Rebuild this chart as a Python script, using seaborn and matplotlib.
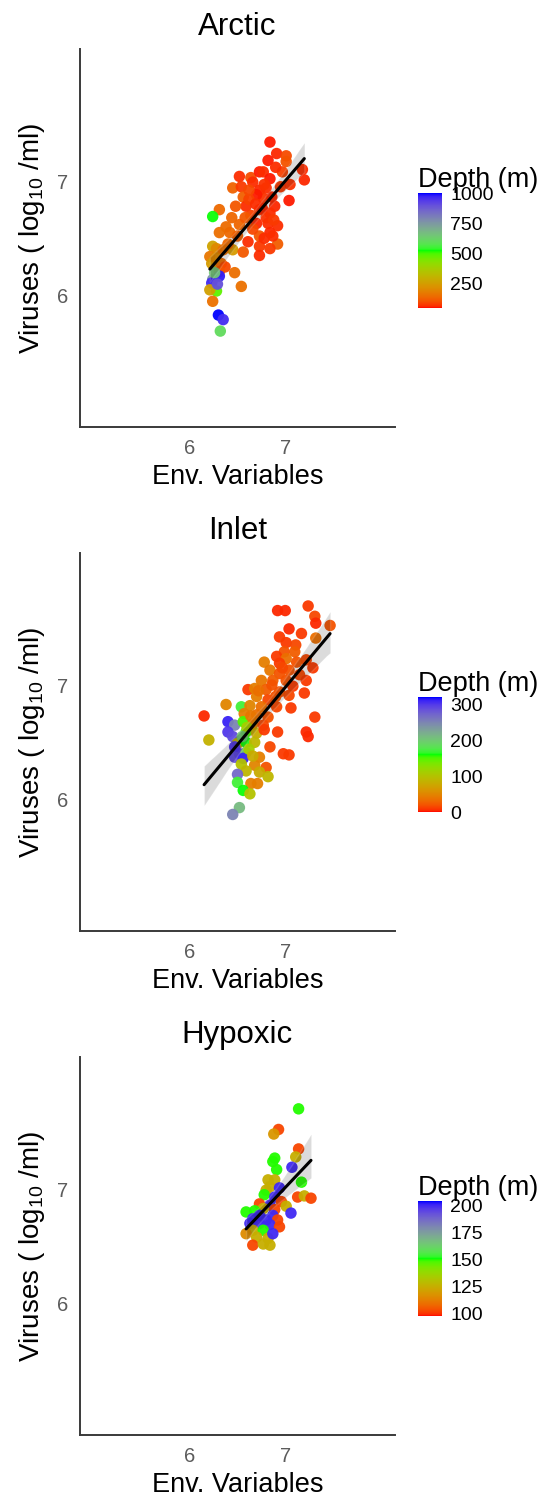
import numpy as np
import pandas as pd
import matplotlib
matplotlib.use("Agg")
import matplotlib.pyplot as plt
from matplotlib.colors import ListedColormap, Normalize
from matplotlib.cm import ScalarMappable
import seaborn as sns

# ---------------- data ----------------
titles = ["Arctic", "Inlet", "Hypoxic"]

arctic_x = [6.84, 6.91, 7.01, 6.82, 7.01, 7.18, 7.20, 6.52, 6.64, 6.73,
            6.77, 6.84, 6.97, 6.45, 6.54, 6.56, 6.73, 6.80, 6.77, 7.04,
            6.89, 6.59, 6.73, 6.84, 6.31, 6.24, 6.44, 6.52, 6.38, 6.64,
            6.70, 6.82, 6.92, 6.31, 6.42, 6.24, 6.28, 6.45, 6.61, 6.73,
            6.84, 6.92, 6.73, 6.84, 6.56, 6.73, 6.21, 6.23, 6.33, 6.37,
            6.31, 6.47, 6.24, 6.23, 6.31, 6.28, 6.21, 6.54, 6.24, 6.30,
            6.35, 6.32,
            6.66, 6.70, 6.78, 6.86, 6.62, 6.69, 6.76, 6.80, 6.88, 6.66,
            6.78, 6.50, 6.40, 6.35, 6.48, 6.58, 6.95, 6.90, 6.62, 6.87,
            7.05, 6.27, 6.29, 6.26]
arctic_y = [7.34, 7.24, 7.22, 7.18, 7.17, 7.10, 7.01, 7.04, 7.03, 7.08,
            7.08, 7.02, 7.08, 6.94, 6.95, 6.86, 6.92, 6.94, 6.85, 6.83,
            6.78, 6.78, 6.75, 6.72, 6.75, 6.69, 6.68, 6.62, 6.60, 6.70,
            6.63, 6.63, 6.61, 6.55, 6.55, 6.43, 6.41, 6.40, 6.47, 6.52,
            6.55, 6.45, 6.43, 6.41, 6.38, 6.35, 6.34, 6.28, 6.28, 6.25,
            6.21, 6.20, 6.14, 6.11, 6.17, 6.04, 6.05, 6.08, 5.95, 5.83,
            5.79, 5.69,
            6.99, 6.88, 6.97, 6.86, 6.84, 6.80, 6.76, 6.68, 6.66, 6.58,
            6.50, 6.52, 6.45, 6.40, 6.78, 6.68, 6.95, 7.12, 6.92, 6.52,
            6.97, 6.33, 6.10, 6.20]
arctic_depth = [50, 55, 90, 50, 100, 60, 55, 60, 95, 50,
                60, 50, 80, 125, 70, 120, 55, 60, 65, 50,
                55, 60, 70, 60, 135, 520, 130, 130, 140, 80,
                55, 60, 60, 145, 135, 260, 200, 240, 60, 105,
                55, 115, 70, 70, 110, 60, 160, 240, 140, 85,
                100, 145, 760, 960, 980, 480, 250, 150, 150, 1000,
                960, 600,
                60, 50, 65, 55, 80, 60, 55, 65, 70, 85,
                60, 120, 135, 150, 105, 110, 70, 60, 85, 60,
                65, 200, 900, 650]

inlet_x = [6.92, 7.00, 7.24, 7.31, 7.32, 7.47, 7.04, 6.94, 7.17, 7.32,
           7.01, 7.11, 6.99, 7.10, 6.91, 7.01, 6.78, 6.94, 7.22, 7.29,
           6.84, 7.04, 6.94, 7.15, 6.75, 6.87, 7.01, 7.22, 7.08, 6.61,
           6.68, 6.80, 6.94, 7.04, 7.20, 6.70, 6.82, 6.38, 6.54, 6.63,
           6.75, 6.91, 7.06, 6.15, 6.57, 6.70, 6.82, 7.31, 6.40, 6.47,
           6.56, 6.66, 6.77, 6.40, 6.45, 6.59, 6.70, 6.78, 6.92, 7.22,
           7.24, 6.20, 6.50, 6.59, 6.68, 6.47, 6.84, 6.52, 6.59, 6.98,
           7.04, 6.47, 6.56, 6.73, 6.54, 6.68, 6.80, 6.59, 6.50, 6.73,
           6.82, 6.50, 6.64, 6.71, 6.56, 6.63, 6.52, 6.45,
           6.86, 6.97, 6.90, 7.12, 6.72, 6.64, 6.60, 6.55, 6.62, 6.66]
inlet_y = [7.65, 7.65, 7.69, 7.60, 7.54, 7.52, 7.49, 7.42, 7.45, 7.41,
           7.37, 7.35, 7.29, 7.29, 7.25, 7.23, 7.20, 7.19, 7.22, 7.15,
           7.13, 7.13, 7.10, 7.09, 7.04, 7.04, 7.04, 7.04, 6.99, 6.96,
           6.97, 6.96, 6.94, 6.91, 6.93, 6.90, 6.87, 6.83, 6.81, 6.82,
           6.81, 6.81, 6.80, 6.73, 6.75, 6.74, 6.72, 6.72, 6.68, 6.65,
           6.68, 6.66, 6.65, 6.59, 6.55, 6.59, 6.58, 6.61, 6.59, 6.59,
           6.55, 6.52, 6.49, 6.50, 6.50, 6.46, 6.46, 6.40, 6.41, 6.40,
           6.39, 6.37, 6.36, 6.37, 6.31, 6.30, 6.28, 6.25, 6.22, 6.24,
           6.20, 6.15, 6.14, 6.14, 6.08, 6.05, 5.93, 5.87,
           7.00, 7.15, 6.90, 7.20, 6.95, 6.73, 6.63, 6.55, 6.44, 6.38]
inlet_depth = [5, 5, 10, 15, 5, 20, 5, 10, 10, 35,
               10, 15, 20, 25, 10, 35, 45, 10, 15, 10,
               40, 20, 20, 15, 40, 25, 20, 10, 10, 10,
               45, 25, 20, 15, 10, 45, 15, 50, 170, 50,
               35, 15, 10, 5, 45, 35, 20, 10, 310, 250,
               150, 45, 15, 300, 290, 150, 80, 10, 10, 5,
               5, 85, 90, 160, 90, 300, 15, 300, 200, 10,
               10, 290, 310, 45, 100, 50, 20, 90, 270, 80,
               90, 170, 45, 45, 160, 100, 210, 250,
               20, 15, 20, 20, 35, 40, 110, 200, 110, 80]

hypoxic_x = [7.14, 6.93, 6.88, 7.14, 7.11, 6.89, 6.87, 7.07, 6.91, 6.82,
             6.89, 7.17, 6.84, 6.94, 6.80, 6.78, 6.89, 7.13, 7.20, 7.27,
             6.73, 6.96, 6.84, 7.01, 6.89, 6.77, 7.06, 6.59, 6.68, 6.73,
             6.87, 6.66, 6.80, 6.92, 6.63, 6.73, 6.84, 6.94, 6.66, 6.77,
             6.59, 6.70, 6.82, 6.87, 6.66, 6.77, 6.84]
hypoxic_y = [7.70, 7.52, 7.48, 7.35, 7.28, 7.27, 7.24, 7.19, 7.17, 7.08,
             7.08, 7.06, 7.02, 7.01, 6.99, 6.95, 6.93, 6.93, 6.94, 6.92,
             6.87, 6.89, 6.86, 6.85, 6.82, 6.83, 6.79, 6.80, 6.81, 6.77,
             6.77, 6.74, 6.73, 6.73, 6.70, 6.70, 6.69, 6.67, 6.64, 6.64,
             6.61, 6.58, 6.57, 6.61, 6.51, 6.52, 6.51]
hypoxic_depth = [150, 102, 118, 102, 125, 150, 150, 200, 150, 125,
                 125, 150, 125, 200, 125, 150, 200, 102, 125, 102,
                 102, 102, 200, 125, 102, 125, 200, 150, 150, 200,
                 200, 200, 200, 102, 200, 200, 200, 102, 125, 150,
                 115, 125, 125, 200, 102, 125, 125]

depth_ranges = [(40, 1000), (0, 320), (97, 204)]
depth_ticks = [[250, 500, 750, 1000], [0, 100, 200, 300], [100, 125, 150, 175, 200]]
axis_ticks = [6, 7]
axis_limits = (4.85, 8.15)

panels = [
    (arctic_x, arctic_y, arctic_depth),
    (inlet_x, inlet_y, inlet_depth),
    (hypoxic_x, hypoxic_y, hypoxic_depth),
]

# ---------------- colour map: red -> green -> blue interpolated in CIELAB ----------------
_M = np.array([[0.4124564, 0.3575761, 0.1804375],
               [0.2126729, 0.7151522, 0.0721750],
               [0.0193339, 0.1191920, 0.9503041]])
_W = np.array([0.95047, 1.0, 1.08883])


def srgb_to_lab(c):
    c = np.asarray(c, float)
    lin = np.where(c <= 0.04045, c / 12.92, ((c + 0.055) / 1.055) ** 2.4)
    xyz = _M @ lin / _W
    f = np.where(xyz > 0.008856, np.cbrt(xyz), 7.787 * xyz + 16 / 116)
    return np.array([116 * f[1] - 16, 500 * (f[0] - f[1]), 200 * (f[1] - f[2])])


def lab_to_srgb(lab):
    L, a, b = lab
    fy = (L + 16) / 116
    fx = fy + a / 500
    fz = fy - b / 200
    f = np.array([fx, fy, fz])
    t = np.where(f ** 3 > 0.008856, f ** 3, (f - 16 / 116) / 7.787)
    lin = np.linalg.solve(_M, t * _W)
    lin = np.clip(lin, 0, 1)
    s = np.where(lin <= 0.0031308, 12.92 * lin, 1.055 * lin ** (1 / 2.4) - 0.055)
    return np.clip(s, 0, 1)


anchors = [srgb_to_lab(c) for c in ([1, 0, 0], [0, 1, 0], [0, 0, 1])]
cols = []
for t in np.linspace(0, 1, 256):
    if t <= 0.5:
        s = t / 0.5
        lab = anchors[0] * (1 - s) + anchors[1] * s
    else:
        s = (t - 0.5) / 0.5
        lab = anchors[1] * (1 - s) + anchors[2] * s
    cols.append(lab_to_srgb(lab))
cmap = ListedColormap(cols)

# ---------------- figure ----------------
sns.set_style("white")
plt.rcParams["font.family"] = ["Liberation Sans", "DejaVu Sans"]
plt.rcParams["mathtext.fontset"] = "custom"
plt.rcParams["mathtext.rm"] = "Liberation Sans"

W, H = 540, 1502
fig = plt.figure(figsize=(W / 100, H / 100), dpi=100)

axis_color = "#3a3a3a"
tick_label_color = "#5c5c5c"

for k, (title, (xs, ys, ds)) in enumerate(zip(titles, panels)):
    top = 49.3 + 504 * k
    ax = fig.add_axes([80 / W, 1 - (top + 378) / H, 315 / W, 378 / H])
    df = pd.DataFrame({"env": xs, "virus": ys, "depth": ds})
    vmin, vmax = depth_ranges[k]
    sns.scatterplot(data=df, x="env", y="virus", hue="depth", palette=cmap,
                    hue_norm=(vmin, vmax), s=68, linewidth=0, alpha=0.95,
                    legend=False, ax=ax, zorder=2)
    sns.regplot(data=df, x="env", y="virus", scatter=False, color="black",
                line_kws={"linewidth": 2.2, "zorder": 4}, ax=ax, seed=1, truncate=True)
    for coll in ax.collections[1:]:
        coll.set_zorder(3)
        coll.set_alpha(0.14)

    ax.set_xlim(*axis_limits)
    ax.set_ylim(*axis_limits)
    ax.set_xticks(axis_ticks)
    ax.set_yticks(axis_ticks)
    for side in ("top", "right"):
        ax.spines[side].set_visible(False)
    for side in ("left", "bottom"):
        ax.spines[side].set_color(axis_color)
        ax.spines[side].set_linewidth(1.4)
    ax.tick_params(axis="both", length=4.5, width=1.2, color=axis_color,
                   labelcolor=tick_label_color, labelsize=14.5, pad=4)
    ax.set_title(title, fontsize=22.5, pad=10, color="black")
    ax.set_xlabel("Env. Variables", fontsize=19.5, labelpad=4, color="black")
    ax.set_ylabel(r"Viruses ( $\mathregular{log_{10}}$ /ml)", fontsize=20,
                  labelpad=7, color="black")

    # colour bar legend
    cb_top = top + 144
    cax = fig.add_axes([418 / W, 1 - (cb_top + 115) / H, 24 / W, 115 / H])
    sm = ScalarMappable(norm=Normalize(vmin, vmax), cmap=cmap)
    cb = fig.colorbar(sm, cax=cax, ticks=depth_ticks[k])
    cb.outline.set_visible(False)
    cax.tick_params(axis="y", direction="in", length=5, width=1, color="white",
                    left=True, right=True, labelleft=False, labelright=True,
                    labelsize=14, labelcolor="black", pad=6)
    fig.text(418 / W, 1 - (top + 138) / H, "Depth (m)", fontsize=19.5,
             ha="left", va="baseline", color="black")

fig.savefig("out.png", dpi=100)
